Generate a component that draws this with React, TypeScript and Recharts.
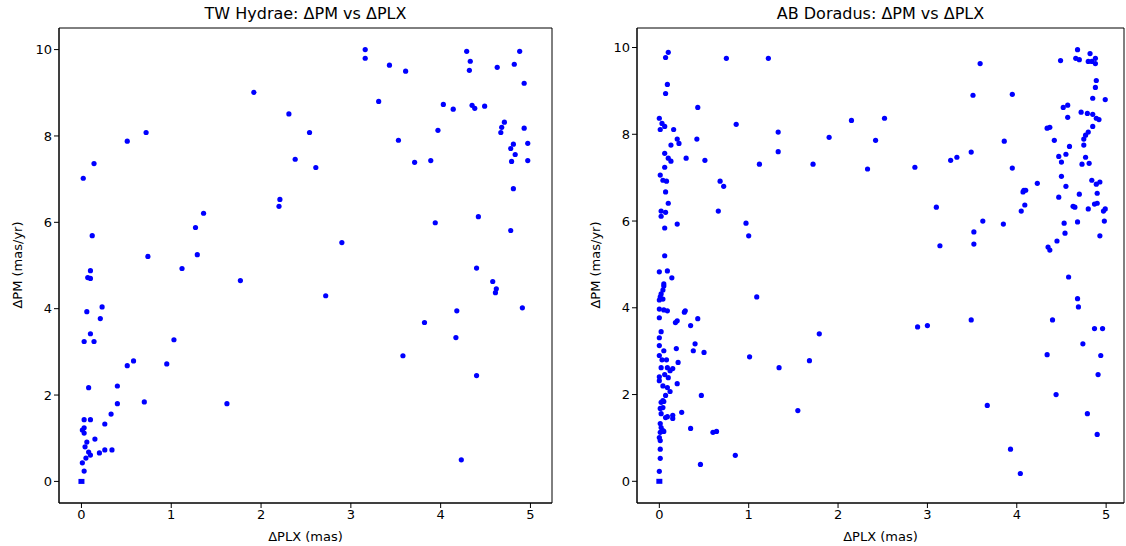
import React from 'react';
import { ScatterChart, Scatter, XAxis, YAxis, ReferenceArea } from 'recharts';

const xTicks = [0, 1, 2, 3, 4, 5];
const yTicks = [0, 2, 4, 6, 8, 10];

// TW Hydrae: delta parallax (mas) and delta proper motion (mas/yr)
const twHydraePlx = [
  3.16, 3.16, 3.43, 3.31, 3.53, 1.92, 2.31, 2.54, 2.38, 2.61, 2.21, 2.2, 2.9, 1.77, 2.72, 1.62,
  4.29, 4.88, 4.33, 3.61, 4.32, 4.63, 4.82, 4.93, 4.03, 4.14, 4.35, 4.38, 4.49, 4.71, 4.68, 4.67,
  4.93, 3.97, 4.81, 4.97, 4.78, 4.83, 4.79, 4.97, 3.71, 3.89, 4.81, 3.94, 4.42, 4.78, 4.4, 4.58,
  4.62, 4.61, 4.18, 4.91, 3.82, 4.17, 3.58, 4.4, 4.23, 0.72, 0.51, 0.14, 0.02, 1.36, 1.27, 0.12,
  0.74, 1.29, 1.12, 0.1, 0.07, 0.1, 0.23, 0.06, 0.21, 0.1, 0.03, 0.14, 1.03, 0.58, 0.51, 0.95,
  0.08, 0.4, 0.4, 0.7, 0.33, 0.26, 0.03, 0.1, 0.03, 0.01, 0.03, 0.15, 0.06, 0.04, 0.08, 0.1,
  0.2, 0.26, 0.34, 0.05, 0.01, 0.03,
];
const twHydraePm = [
  10.0, 9.8, 9.64, 8.8, 7.9, 9.01, 8.51, 8.08, 7.46, 7.27, 6.53, 6.37, 5.53, 4.65, 4.3, 1.8,
  9.96, 9.96, 9.73, 9.5, 9.52, 9.59, 9.66, 9.22, 8.73, 8.62, 8.71, 8.64, 8.69, 8.32, 8.2, 8.08,
  8.18, 8.13, 7.81, 7.83, 7.71, 7.57, 7.41, 7.43, 7.39, 7.43, 6.78, 5.99, 6.13, 5.81, 4.94, 4.63,
  4.46, 4.37, 3.95, 4.02, 3.68, 3.33, 2.91, 2.45, 0.5, 8.08, 7.88, 7.36, 7.02, 6.21, 5.88, 5.69,
  5.21, 5.25, 4.93, 4.88, 4.72, 4.7, 4.04, 3.93, 3.77, 3.42, 3.24, 3.24, 3.28, 2.79, 2.68, 2.72,
  2.17, 2.21, 1.8, 1.84, 1.56, 1.33, 1.43, 1.43, 1.24, 1.19, 1.12, 0.98, 0.91, 0.8, 0.68, 0.61,
  0.66, 0.73, 0.73, 0.54, 0.43, 0.24,
];

// AB Doradus: delta parallax (mas) and delta proper motion (mas/yr)
const abDoradusPlx = [
  0.1, 0.07, 0.75, 1.22, 0.09, 0.07, 0.43, 0.0, 0.03, 0.06, 0.01, 0.16, 0.86, 1.33, 0.2, 0.22,
  0.42, 0.13, 1.33, 0.06, 0.1, 0.13, 0.3, 0.51, 1.12, 0.06, 0.01, 0.04, 0.08, 0.68, 0.72, 0.07,
  0.1, 0.02, 0.07, 0.02, 0.66, 0.06, 0.2, 0.97, 1.0, 0.06,
  0.0, 0.09, 0.14, 0.05, 0.05, 0.04, 0.02, 0.01, 0.04, 0.0, 1.09, 0.0, 0.05, 0.09, 0.28, 0.29,
  0.43, 0.0, 0.18, 0.2, 0.35, 0.02, 0.0, 0.4, 0.0, 0.19, 0.38, 0.5, 0.05, 1.01, 0.0, 0.03,
  0.08, 0.21, 1.34, 0.02, 0.09, 0.15, 0.12, 0.06, 0.0, 0.1, 0.0, 0.2, 0.04, 0.09, 0.12, 0.07,
  0.47, 0.04, 0.02, 0.05, 1.55, 0.04, 0.01, 0.25, 0.02, 0.07, 0.09, 0.15, 0.15, 0.01, 0.02, 0.05,
  0.01, 0.04, 0.35, 0.6, 0.64, 0.0, 0.01, 0.01, 0.01, 0.85, 0.46, 0.0,
  2.15, 2.52, 1.9, 2.42, 1.72, 2.33, 2.86, 3.26, 3.33, 3.1, 3.14, 1.79, 1.68, 2.89, 3.0,
  4.68, 4.49, 4.66, 4.7, 4.82, 4.88, 4.8, 4.84, 4.88, 3.59, 4.89, 4.88, 3.51, 3.95, 4.85, 4.99,
  4.52, 4.57, 4.72, 4.79, 4.85, 4.57, 4.89, 4.92, 4.85, 4.34, 4.37, 4.8, 4.77, 4.75, 4.42, 3.86,
  4.75, 4.59, 3.49, 4.47, 4.55, 4.77, 4.5, 4.73, 4.81, 3.95, 4.5, 4.84, 4.93, 4.89, 4.23, 4.55,
  4.08, 4.1, 4.07, 4.9, 4.7, 4.47, 4.09, 4.05, 4.63, 4.65, 4.87, 4.9, 4.8, 4.97, 4.99, 3.62,
  3.85, 4.53, 4.68, 4.98, 3.52, 4.54, 4.93, 3.52, 4.45, 4.35, 4.37,
  4.58, 4.68, 4.69, 3.49, 4.4, 4.87, 4.96, 4.74, 4.34, 4.94, 4.91, 4.44, 3.67, 4.79, 4.9, 3.93,
  4.04,
];
const abDoradusPm = [
  9.89, 9.77, 9.75, 9.75, 9.15, 8.94, 8.62, 8.37, 8.25, 8.18, 8.11, 8.11, 8.23, 8.05, 7.89, 7.79,
  7.89, 7.75, 7.6, 7.56, 7.45, 7.38, 7.45, 7.4, 7.31, 7.24, 7.06, 6.94, 6.92, 6.92, 6.8, 6.67,
  6.41, 6.23, 6.2, 6.11, 6.23, 5.84, 5.93, 5.95, 5.66, 5.2,
  4.83, 4.85, 4.69, 4.55, 4.5, 4.41, 4.32, 4.25, 4.2, 4.18, 4.25, 3.97, 3.95, 3.93, 3.9, 3.93,
  3.75, 3.77, 3.66, 3.7, 3.59, 3.45, 3.31, 3.17, 3.13, 3.06, 3.01, 2.97, 3.01, 2.87, 2.9, 2.8,
  2.8, 2.74, 2.62, 2.62, 2.62, 2.6, 2.55, 2.46, 2.41, 2.39, 2.32, 2.25, 2.2, 2.16, 2.07, 1.98,
  1.98, 1.86, 1.82, 1.84, 1.63, 1.7, 1.68, 1.59, 1.56, 1.47, 1.49, 1.52, 1.45, 1.33, 1.24, 1.15,
  1.13, 1.17, 1.22, 1.13, 1.15, 1.01, 0.94, 0.74, 0.53, 0.6, 0.39, 0.23,
  8.32, 8.37, 7.93, 7.86, 7.31, 7.2, 7.24, 7.4, 7.47, 6.32, 5.43, 3.4, 2.78, 3.56, 3.59,
  9.95, 9.7, 9.75, 9.72, 9.86, 9.75, 9.68, 9.68, 9.63, 9.63, 9.24, 9.08, 8.9, 8.92, 8.83, 8.8,
  8.62, 8.67, 8.51, 8.48, 8.46, 8.39, 8.37, 8.34, 8.18, 8.14, 8.16, 8.05, 7.98, 7.89, 7.86, 7.84,
  7.75, 7.72, 7.59, 7.49, 7.54, 7.47, 7.36, 7.31, 7.33, 7.22, 7.03, 6.94, 6.9, 6.85, 6.87, 6.8,
  6.71, 6.71, 6.67, 6.64, 6.62, 6.55, 6.37, 6.23, 6.34, 6.32, 6.39, 6.41, 6.28, 6.23, 6.28, 6.0,
  5.93, 5.95, 5.98, 6.0, 5.75, 5.72, 5.66, 5.47, 5.54, 5.4, 5.33,
  4.71, 4.21, 4.02, 3.72, 3.72, 3.52, 3.52, 3.17, 2.92, 2.9, 2.46, 2.0, 1.75, 1.56, 1.08, 0.74,
  0.18,
];

// reference star drawn with a square marker at the origin
const originPlx = [0];
const originPm = [0];

const toPoints = (xs: number[], ys: number[]) => xs.map((x, i) => ({ plx: x, pm: ys[i] }));

const Dot = (props: any) => <circle cx={props.cx} cy={props.cy} r={2.6} fill="#0000ff" />;
const Square = (props: any) => (
  <rect x={props.cx - 3} y={props.cy - 2.5} width={6} height={5} fill="#0000ff" />
);

const font = 'DejaVu Sans, sans-serif';

interface PanelProps {
  left: number;
  width: number;
  rightMargin: number;
  title: string;
  xDomain: [number, number];
  yDomain: [number, number];
  plx: number[];
  pm: number[];
}

const Panel: React.FC<PanelProps> = ({ left, width, rightMargin, title, xDomain, yDomain, plx, pm }) => {
  const yAxisW = 59;
  const plotLeft = left + yAxisW;
  const plotW = width - yAxisW - rightMargin;
  return (
    <>
      <div
        style={{
          position: 'absolute', left: plotLeft, top: 4, width: plotW, textAlign: 'center',
          fontFamily: font, fontSize: 16, lineHeight: '20px', color: '#000',
        }}
      >
        {title}
      </div>
      <div
        style={{
          position: 'absolute', left: plotLeft, top: 528, width: plotW, textAlign: 'center',
          fontFamily: font, fontSize: 13, lineHeight: '18px', color: '#000',
        }}
      >
        ΔPLX (mas)
      </div>
      <div
        style={{
          position: 'absolute', left: left + 18 - 100, top: 265 - 9, width: 200, textAlign: 'center',
          fontFamily: font, fontSize: 13, lineHeight: '18px', color: '#000', transform: 'rotate(-90deg)',
        }}
      >
        ΔPM (mas/yr)
      </div>
      <div style={{ position: 'absolute', left, top: 0 }}>
        <ScatterChart width={width} height={546} margin={{ top: 28, right: rightMargin, bottom: 0, left: 0 }}>
          <XAxis
            type="number"
            dataKey="plx"
            domain={xDomain}
            ticks={xTicks}
            allowDataOverflow
            height={43}
            tickSize={5}
            stroke="#000"
            tick={{ fill: '#000', fontSize: 13, fontFamily: font }}
          />
          <YAxis
            type="number"
            dataKey="pm"
            domain={yDomain}
            ticks={yTicks}
            allowDataOverflow
            width={yAxisW}
            tickSize={5}
            stroke="#000"
            tick={{ fill: '#000', fontSize: 13, fontFamily: font }}
          />
          <ReferenceArea
            x1={xDomain[0]}
            x2={xDomain[1]}
            y1={yDomain[0]}
            y2={yDomain[1]}
            fill="none"
            stroke="#000"
            strokeWidth={1}
            ifOverflow="visible"
          />
          <Scatter data={toPoints(plx, pm)} shape={Dot} isAnimationActive={false} />
          <Scatter data={toPoints(originPlx, originPm)} shape={Square} isAnimationActive={false} />
        </ScatterChart>
      </div>
    </>
  );
};

export default function App() {
  return (
    <div
      style={{
        position: 'absolute', left: 0, top: 0, width: 1126, height: 546,
        overflow: 'hidden', background: '#fff',
      }}
    >
      <Panel
        left={0}
        width={563}
        rightMargin={11}
        title="TW Hydrae: ΔPM vs ΔPLX"
        xDomain={[-0.25, 5.24]}
        yDomain={[-0.5, 10.5]}
        plx={twHydraePlx}
        pm={twHydraePm}
      />
      <Panel
        left={578}
        width={548}
        rightMargin={2}
        title="AB Doradus: ΔPM vs ΔPLX"
        xDomain={[-0.25, 5.2]}
        yDomain={[-0.5, 10.45]}
        plx={abDoradusPlx}
        pm={abDoradusPm}
      />
    </div>
  );
}
